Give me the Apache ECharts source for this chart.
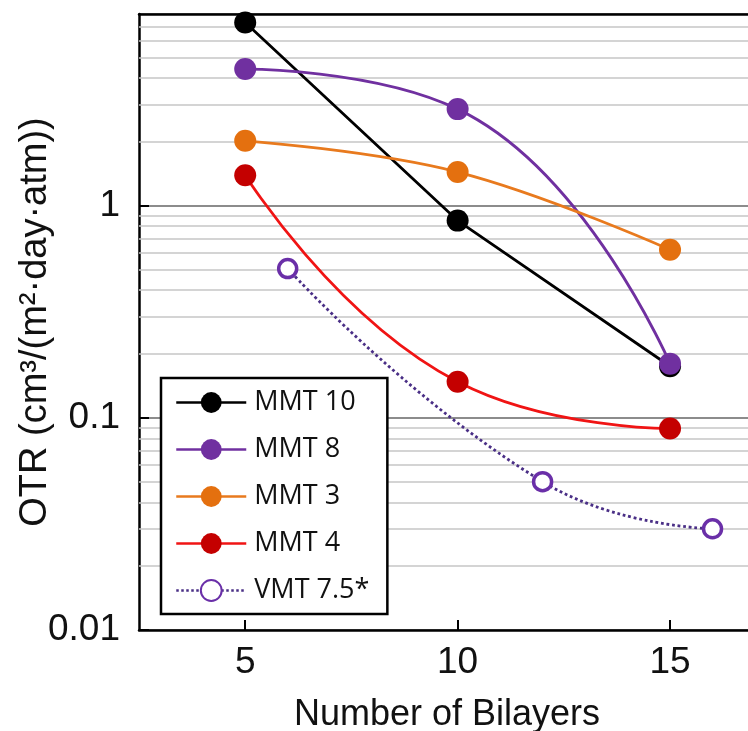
<!DOCTYPE html>
<html>
<head>
<meta charset="utf-8">
<script src="https://cdn.jsdelivr.net/npm/echarts@6/dist/echarts.min.js"></script>
<style>
  html, body { margin: 0; padding: 0; background: #fff; }
  #chart { width: 748px; height: 731px; }
</style>
</head>
<body>
<div id="chart"></div>
<script>
// Oxygen transmission rate vs. number of bilayers
const bilayers = [5, 10, 15];
const mmt10 = [7.3, 0.85, 0.175];
const mmt8 = [4.4, 2.85, 0.18];
const mmt3 = [2.02, 1.44, 0.62];
const mmt4 = [1.39, 0.148, 0.089];
const vmtBilayers = [6, 12, 16];
const vmt75 = [0.505, 0.05, 0.03];

const seriesNames = ['MMT 10', 'MMT 8', 'MMT 3', 'MMT 4', 'VMT 7.5*'];
const xTicks = [5, 10, 15];
const minorGrid = [0.02, 0.03, 0.04, 0.05, 0.06, 0.07, 0.08, 0.09,
                   0.2, 0.3, 0.4, 0.5, 0.6, 0.7, 0.8, 0.9,
                   2, 3, 4, 5, 6, 7];

const pairs = (xs, ys) => xs.map((x, i) => [x, ys[i]]);
const axisFont = 'Liberation Sans, Arial, sans-serif';

const chart = echarts.init(document.getElementById('chart'), null, { renderer: 'canvas' });

chart.setOption({
  animation: false,
  backgroundColor: '#ffffff',
  grid: { left: 139, top: 14, width: 616, bottom: 101, containLabel: false, outerBoundsMode: 'none' },
  xAxis: [{
    type: 'value',
    min: 2.5,
    max: 17,
    name: 'Number of Bilayers',
    nameLocation: 'middle',
    nameGap: 67,
    nameMoveOverlap: false,
    nameTextStyle: { fontFamily: axisFont, fontSize: 36, color: '#111' },
    axisLine: { show: true, onZero: false, lineStyle: { color: '#000', width: 2.5 } },
    axisTick: { show: true, inside: true, length: 10, customValues: xTicks, lineStyle: { color: '#000', width: 2 } },
    axisLabel: { customValues: xTicks, fontFamily: axisFont, fontSize: 37, color: '#111', margin: 14 },
    splitLine: { show: false }
  }, {
    type: 'value',
    position: 'top',
    min: 2.5,
    max: 17,
    axisLine: { show: true, onZero: false, lineStyle: { color: '#000', width: 2.5 } },
    axisTick: { show: false },
    axisLabel: { show: false },
    splitLine: { show: false }
  }],
  yAxis: {
    type: 'log',
    logBase: 10,
    min: 0.01,
    max: 8,
    name: 'OTR (cm³/(m²·day·atm))',
    nameLocation: 'middle',
    nameGap: 84,
    nameMoveOverlap: false,
    nameRotate: 90,
    nameTextStyle: { fontFamily: axisFont, fontSize: 38, color: '#111' },
    axisLine: { show: true, onZero: false, lineStyle: { color: '#000', width: 2.5 } },
    axisTick: { show: true, inside: true, length: 10, lineStyle: { color: '#000', width: 2 } },
    axisLabel: {
      fontFamily: axisFont, fontSize: 37, color: '#111', margin: 19,
      showMaxLabel: false,
      formatter: v => String(+Number(v).toPrecision(3))
    },
    splitLine: { show: true, lineStyle: { color: '#8c8c8c', width: 2 } }
  },
  legend: {
    data: seriesNames,
    z: 20,
    orient: 'vertical',
    left: 161,
    top: 378,
    padding: [11, 18, 10, 14],
    itemWidth: 70,
    itemHeight: 26,
    itemGap: 20,
    backgroundColor: '#ffffff',
    borderColor: '#000',
    borderWidth: 2.5,
    borderRadius: 0,
    lineStyle: { width: 2.5 },
    textStyle: { fontFamily: 'Open Sans, DejaVu Sans, sans-serif', fontSize: 27, color: '#111', padding: [0, 0, 0, 3] }
  },
  series: [
    {
      // minor decade gridlines (2–9 × 10^n)
      name: 'grid',
      type: 'line',
      data: [],
      z: 1,
      silent: true,
      markLine: {
        z: 1,
        silent: true,
        symbol: 'none',
        label: { show: false },
        lineStyle: { color: '#c6c6c6', width: 1.5, type: 'solid' },
        data: minorGrid.map(v => ({ yAxis: v }))
      }
    },
    {
      name: 'MMT 10',
      type: 'line',
      data: pairs(bilayers, mmt10),
      symbol: 'circle',
      symbolSize: 22,
      itemStyle: { color: '#000000' },
      lineStyle: { color: '#000000', width: 2.8 },
      z: 5
    },
    {
      name: 'MMT 8',
      type: 'line',
      data: pairs(bilayers, mmt8),
      smooth: 0.5,
      symbol: 'circle',
      symbolSize: 22,
      itemStyle: { color: '#7030a0' },
      lineStyle: { color: '#7030a0', width: 2.8 },
      z: 5
    },
    {
      name: 'MMT 3',
      type: 'line',
      data: pairs(bilayers, mmt3),
      smooth: 0.4,
      symbol: 'circle',
      symbolSize: 22,
      itemStyle: { color: '#e4700f' },
      lineStyle: { color: '#e87a1e', width: 2.8 },
      z: 5
    },
    {
      name: 'MMT 4',
      type: 'line',
      data: pairs(bilayers, mmt4),
      smooth: 0.5,
      symbol: 'circle',
      symbolSize: 22,
      itemStyle: { color: '#c40000' },
      lineStyle: { color: '#f01414', width: 2.8 },
      z: 5
    },
    {
      name: 'VMT 7.5*',
      type: 'line',
      data: pairs(vmtBilayers, vmt75),
      smooth: 0.5,
      symbol: 'circle',
      symbolSize: 18,
      showSymbol: true,
      itemStyle: { color: '#ffffff', borderColor: '#6a2fa8', borderWidth: 3.5 },
      lineStyle: { color: '#4a2f86', width: 2.8, type: 'dotted' },
      z: 5
    }
  ]
});
</script>
</body>
</html>
